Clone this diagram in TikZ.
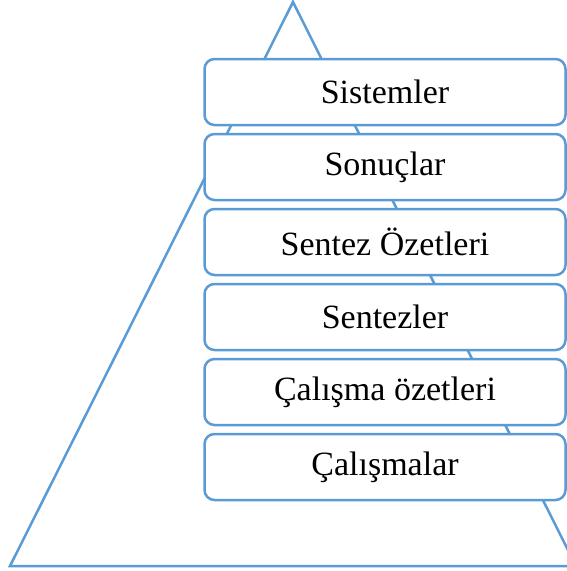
\documentclass[tikz,border=0pt]{standalone}
\usepackage{fontspec}
\setmainfont{Liberation Serif}
\usepackage{xcolor}
\definecolor{tierblue}{HTML}{5B9BD5}

\begin{document}
\begin{tikzpicture}[x=1pt, y=-1pt,
  tierbox/.style={draw=tierblue, line width=2.5pt, fill=white, rounded corners=10pt,
    minimum width=361pt, minimum height=66pt, inner sep=0pt,
    font=\fontsize{34}{40}\selectfont}]
\useasboundingbox (0,0) rectangle (567,571);
\clip (0,0) rectangle (567,571);
% --- The big triangle behind the boxes ---
\coordinate (apex) at (293,2);
\coordinate (baseL) at (10,566);
\coordinate (baseR) at (576,566);
\draw[tierblue, line width=2.5pt, line join=miter] (apex) -- (baseL) -- (baseR) -- cycle;
% --- Stacked levels, top to bottom ---
\foreach \i/\txt in {1/Sistemler, 2/Sonuçlar, 3/Sentez Özetleri, 4/Sentezler, 5/Çalışma özetleri, 6/Çalışmalar} {
  \node[tierbox] (tier\i) at (385, {92+75*(\i-1)}) {\txt};
}
\end{tikzpicture}
\end{document}
